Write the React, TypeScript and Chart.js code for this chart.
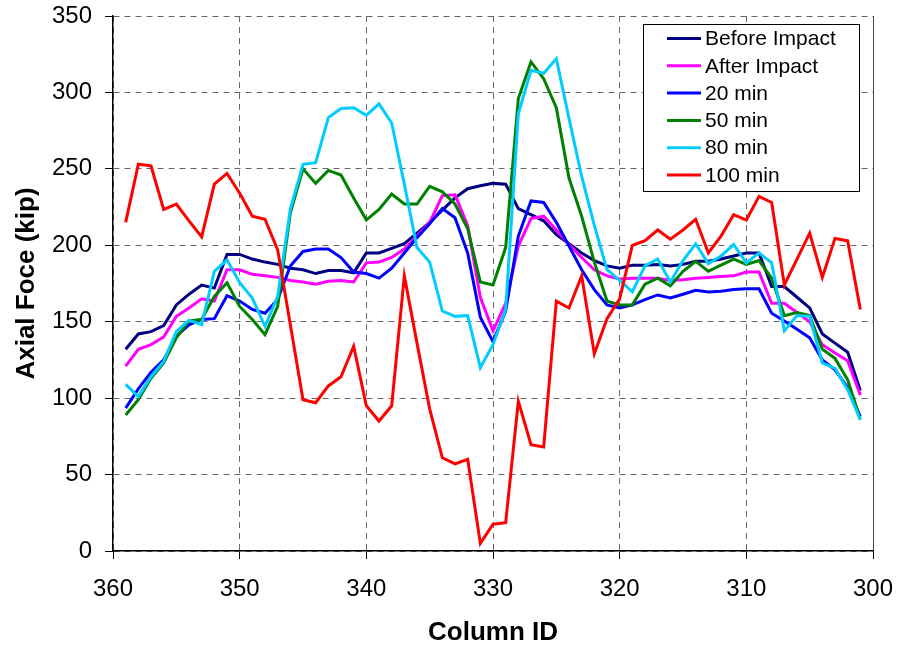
import React, { useEffect, useRef } from "react";
import { Chart, registerables } from "chart.js";

Chart.register(...registerables);

const columns = [
  359, 358, 357, 356, 355, 354, 353, 352, 351, 350,
  349, 348, 347, 346, 345, 344, 343, 342, 341, 340,
  339, 338, 337, 336, 335, 334, 333, 332, 331, 330,
  329, 328, 327, 326, 325, 324, 323, 322, 321, 320,
  319, 318, 317, 316, 315, 314, 313, 312, 311, 310,
  309, 308, 307, 306, 305, 304, 303, 302, 301,
];

const beforeImpact = [
  132, 142, 143.5, 147.5, 161, 168, 174, 172, 194, 194,
  191, 189, 187.5, 185, 184, 181.5, 183.5, 183.5, 182, 195,
  195, 198, 201, 208, 215, 223, 231, 237, 239, 240.5,
  240, 224, 220, 216, 207, 201, 195, 190, 186.5, 185,
  187, 187, 187.5, 186.5, 187.5, 189.5, 189.5, 191, 193, 195,
  195, 173, 173, 166, 159, 142, 136, 130, 105,
];

const afterImpact = [
  121, 132, 135, 140, 153.5, 159, 165, 163.5, 184, 184,
  181, 180, 179, 177, 176, 174.5, 176.5, 177, 176, 188.5,
  189, 192, 197.5, 206, 215, 232.5, 233, 213, 166, 144,
  162, 199.5, 217.5, 219, 210, 200.5, 192, 184, 180, 178,
  178.5, 178.5, 178.5, 177, 177.5, 178.5, 179, 179.5, 180, 182.5,
  182.5, 162, 162, 156, 150, 135, 129.5, 124.5, 102,
];

const min20 = [
  93.5, 106, 117, 125, 140.5, 148, 151.5, 152, 167, 163.5,
  158, 155.5, 164.5, 186.5, 196, 197.5, 197.5, 192, 182.5, 181.5,
  178.5, 185, 195, 205, 214, 224, 218, 195, 153, 137,
  157, 206, 229, 228, 215, 199.5, 184, 171, 161, 159,
  161, 164.5, 167.5, 165.5, 168, 170.5, 169.5, 170, 171, 171.5,
  171.5, 155.5, 150.5, 145, 139.5, 125, 118.5, 107, 88,
];

const min50 = [
  89, 99, 113, 123, 139.5, 150.5, 151.5, 166.5, 175.5, 160,
  151.5, 141.5, 160, 221, 250, 240.5, 249, 246, 231, 216.5,
  223.5, 233.5, 227, 227, 238.5, 235, 227, 211, 176, 174,
  198.5, 296, 320, 309, 290, 244, 219, 189, 163.5, 161,
  161, 174.5, 178.5, 173.5, 183, 189.5, 183, 187, 191, 187.5,
  190, 178.5, 154, 156, 154, 132, 126, 112, 86,
];

const min80 = [
  109, 101, 114, 124, 143.5, 151, 148, 183, 190.5, 175.5,
  165.5, 147, 166.5, 223.5, 253, 254, 283.5, 289.5, 290, 285,
  292.5, 280, 240, 198.5, 189, 157, 153.5, 154, 120, 135,
  158, 286, 314.5, 312.5, 322, 283, 245, 213, 184, 177,
  169.5, 186.5, 191, 176, 190, 201, 188, 193, 200.5, 188.5,
  195, 188.5, 144, 154, 153.5, 123, 119.5, 105.5, 86,
];

const min100 = [
  215, 253, 252, 223.5, 227, 216, 205.5, 240, 247, 234,
  219, 217, 197, 148, 99, 97, 108, 114, 134, 95,
  85, 95, 180, 136, 93, 61, 57, 60, 5, 17.5,
  18.5, 98, 69.5, 68, 163.5, 159, 180, 129, 152, 165,
  200, 203, 210, 204, 210, 217, 195, 206, 220, 216.5,
  232, 228, 174, 191, 208, 179, 204.5, 203, 158,
];

const seriesLabels = ["Before Impact", "After Impact", "20 min", "50 min", "80 min", "100 min"];
const seriesValues = [beforeImpact, afterImpact, min20, min50, min80, min100];
const seriesColors = ["#000080", "#FF00FF", "#0000FF", "#008000", "#00CCFF", "#FF0000"];

const xTitle = "Column ID";
const yTitle = "Axial Foce (kip)";

const FONT = "'Liberation Sans', Arial, Helvetica, sans-serif";

const boxLegend = {
  id: "boxLegend",
  afterDatasetsDraw(chart: any) {
    const ctx = chart.ctx;
    const x0 = 643;
    const y0 = 24;
    const w = 216;
    const h = 167;
    ctx.save();
    ctx.fillStyle = "#ffffff";
    ctx.fillRect(x0, y0, w, h);
    ctx.strokeStyle = "#000000";
    ctx.lineWidth = 1;
    ctx.strokeRect(x0 + 0.5, y0 + 0.5, w, h);
    ctx.font = `21px ${FONT}`;
    ctx.textBaseline = "middle";
    ctx.textAlign = "left";
    chart.data.datasets.forEach((ds: any, i: number) => {
      const y = 38.5 + i * 27.3;
      ctx.strokeStyle = ds.borderColor;
      ctx.lineWidth = 3;
      ctx.beginPath();
      ctx.moveTo(667, y);
      ctx.lineTo(701, y);
      ctx.stroke();
      ctx.fillStyle = "#000000";
      ctx.fillText(ds.label, 705, y + 1);
    });
    ctx.restore();
  },
};

const frameRight = {
  id: "frameRight",
  beforeDatasetsDraw(chart: any) {
    const { ctx, chartArea } = chart;
    ctx.save();
    ctx.strokeStyle = "#444444";
    ctx.lineWidth = 1;
    ctx.beginPath();
    ctx.moveTo(Math.round(chartArea.right) + 0.5, chartArea.top);
    ctx.lineTo(Math.round(chartArea.right) + 0.5, chartArea.bottom);
    ctx.stroke();
    ctx.restore();
  },
};

export default function App() {
  const canvasRef = useRef<HTMLCanvasElement | null>(null);

  useEffect(() => {
    if (!canvasRef.current) return;
    const datasets = seriesLabels.map((label, i) => ({
      label,
      data: columns.map((c, j) => ({ x: c, y: seriesValues[i][j] })),
      borderColor: seriesColors[i],
      backgroundColor: seriesColors[i],
      borderWidth: 3,
      pointRadius: 0,
      tension: 0,
      fill: false,
      order: seriesLabels.length - i,
    }));
    const chart = new Chart(canvasRef.current, {
      type: "line",
      data: { datasets },
      plugins: [frameRight, boxLegend],
      options: {
        animation: false,
        responsive: false,
        devicePixelRatio: 1,
        parsing: false as any,
        layout: { padding: { left: 0, top: 16, right: 25, bottom: 0 } },
        plugins: {
          legend: { display: false },
          tooltip: { enabled: false },
        },
        scales: {
          x: {
            type: "linear",
            min: 300,
            max: 360,
            reverse: true,
            afterFit: (scale: any) => {
              scale.height = 98;
              scale.paddingLeft = 0;
              scale.paddingRight = 0;
            },
            ticks: {
              stepSize: 10,
              color: "#000",
              font: { family: FONT, size: 24 },
              padding: 16,
              maxRotation: 0,
            },
            grid: {
              color: "#666666",
              lineWidth: 1,
              tickLength: 8,
              tickColor: "#000000",
            },
            border: { display: true, color: "#000000", width: 1.5, dash: [6, 5] },
            title: {
              display: true,
              text: xTitle,
              color: "#000",
              font: { family: FONT, size: 26, weight: "bold" },
              padding: { top: 0, bottom: 1 },
            },
          },
          y: {
            type: "linear",
            min: 0,
            max: 350,
            afterFit: (scale: any) => {
              scale.width = 113;
              scale.paddingTop = 0;
              scale.paddingBottom = 0;
            },
            ticks: {
              stepSize: 50,
              color: "#000",
              font: { family: FONT, size: 24 },
              padding: 13,
            },
            grid: {
              color: "#666666",
              lineWidth: 1,
              tickLength: 8,
              tickColor: "#000000",
            },
            border: { display: true, color: "#000000", width: 1.5, dash: [6, 5] },
            title: {
              display: true,
              text: yTitle,
              color: "#000",
              font: { family: FONT, size: 26, weight: "bold" },
              padding: { top: 11, bottom: 0 },
            },
          },
        },
      },
    } as any);
    return () => chart.destroy();
  }, []);

  return (
    <div style={{ position: "absolute", left: 0, top: 0, width: 898, height: 649, background: "#fff" }}>
      <canvas ref={canvasRef} width={898} height={649} style={{ display: "block" }} />
    </div>
  );
}
